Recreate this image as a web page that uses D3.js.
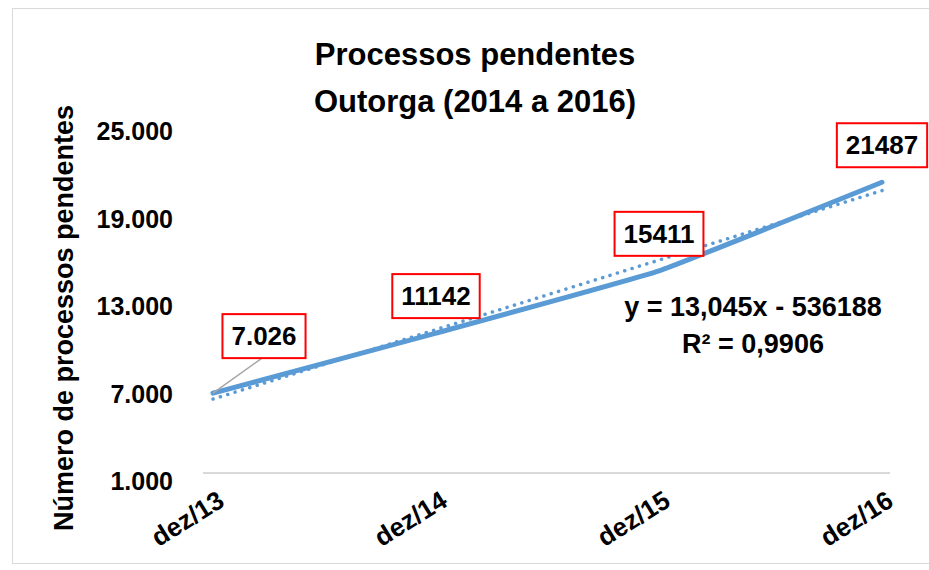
<!DOCTYPE html>
<html>
<head>
<meta charset="utf-8">
<script src="https://cdn.jsdelivr.net/npm/d3@7"></script>
<style>
    body { margin: 0; background: #fff; }
    svg text { font-family: "Liberation Sans", Arial, sans-serif; font-weight: bold; fill: #000; }
</style>
</head>
<body>
<div id="chart"></div>
<script>
// data
const categories = ['dez/13', 'dez/14', 'dez/15', 'dez/16'];
const pendentes = [7026, 11142, 15411, 21487];
const pointLabels = ['7.026', '11142', '15411', '21487'];
const yTicks = [1000, 7000, 13000, 19000, 25000];
const titleLines = ['Processos pendentes', 'Outorga (2014 a 2016)'];
const equationLines = ['y = 13,045x - 536188', 'R² = 0,9906'];

const width = 929, height = 570;
const blue = '#5b9bd5';

const svg = d3.select('#chart')
    .append('svg')
    .attr('width', width)
    .attr('height', height);

// chart border
svg.append('rect')
    .attr('x', 12.5).attr('y', 8.5)
    .attr('width', 930).attr('height', 555)
    .attr('fill', '#fff')
    .attr('stroke', '#d9d9d9');

const x = d3.scalePoint().domain(categories).range([213, 882]);
const y = d3.scaleLinear().domain([1000, 25000]).range([481, 131]);

// title
svg.append('text')
    .attr('x', 475).attr('text-anchor', 'middle')
    .style('font-size', '31px')
    .selectAll('tspan')
    .data(titleLines)
    .join('tspan')
    .attr('x', 475)
    .attr('y', (d, i) => 65 + i * 47)
    .text(d => d);

// y axis title
svg.append('text')
    .attr('transform', 'translate(73,318) rotate(-90)')
    .attr('text-anchor', 'middle')
    .style('font-size', '27px')
    .text('Número de processos pendentes');

// y axis (labels only)
const yAxis = d3.axisLeft(y)
    .tickValues(yTicks)
    .tickSize(0)
    .tickPadding(0)
    .tickFormat(d => d3.format(',')(d).replace(/,/g, '.'));

const yg = svg.append('g')
    .attr('transform', 'translate(173,0)')
    .call(yAxis);
yg.select('.domain').remove();
yg.selectAll('text')
    .style('font-size', '25px')
    .attr('dy', '0.35em');

// category axis line
svg.append('line')
    .attr('x1', 203).attr('x2', 890)
    .attr('y1', 473).attr('y2', 473)
    .attr('stroke', '#d9d9d9')
    .attr('stroke-width', 2);

// category labels
svg.append('g')
    .selectAll('text')
    .data(categories)
    .join('text')
    .attr('text-anchor', 'end')
    .attr('transform', d => `translate(${x(d) + 13},505) rotate(-32)`)
    .style('font-size', '26px')
    .text(d => d);

// linear trendline from least squares on the series
const idx = pendentes.map((d, i) => i);
const mx = d3.mean(idx), my = d3.mean(pendentes);
const slope = d3.sum(idx, i => (i - mx) * (pendentes[i] - my)) / d3.sum(idx, i => (i - mx) ** 2);
const intercept = my - slope * mx;
const trend = [0, categories.length - 1].map(i => ({ c: categories[i], v: intercept + slope * i }));

svg.append('path')
    .datum(trend)
    .attr('fill', 'none')
    .attr('stroke', blue)
    .attr('stroke-width', 3.5)
    .attr('stroke-linecap', 'round')
    .attr('stroke-dasharray', '0.1 7.6')
    .attr('d', d3.line().x(d => x(d.c)).y(d => y(d.v)));

// main series
const series = categories.map((c, i) => ({ c, v: pendentes[i], label: pointLabels[i] }));

svg.append('path')
    .datum(series)
    .attr('fill', 'none')
    .attr('stroke', blue)
    .attr('stroke-width', 5)
    .attr('stroke-linecap', 'round')
    .attr('d', d3.line().x(d => x(d.c)).y(d => y(d.v)).curve(d3.curveCardinal.tension(0.7)));

// data labels in red boxes; the first one was dragged aside and has a leader line
const shift = i => i === 0 ? [51, -57] : [0, -37];
const boxH = 44;

series.forEach((d, i) => {
    const [dx, dy] = shift(i);
    const cx = x(d.c) + dx, cy = y(d.v) + dy;

    if (i === 0) {
        svg.append('line')
            .attr('x1', x(d.c)).attr('y1', y(d.v))
            .attr('x2', cx - 2).attr('y2', cy + boxH / 2)
            .attr('stroke', '#a6a6a6')
            .attr('stroke-width', 1.5);
    }

    const g = svg.append('g');
    const rect = g.append('rect');
    const t = g.append('text')
        .attr('x', cx).attr('y', cy)
        .attr('dy', '0.35em')
        .attr('text-anchor', 'middle')
        .style('font-size', '26px')
        .text(d.label);
    const bb = t.node().getBBox();
    const boxW = bb.width + 18;
    rect.attr('x', cx - boxW / 2).attr('y', cy - boxH / 2)
        .attr('width', boxW).attr('height', boxH)
        .attr('fill', '#fff')
        .attr('stroke', '#ff0000')
        .attr('stroke-width', 2);
});

// trendline equation
svg.append('text')
    .attr('text-anchor', 'middle')
    .style('font-size', '27px')
    .selectAll('tspan')
    .data(equationLines)
    .join('tspan')
    .attr('x', 753)
    .attr('y', (d, i) => 316 + i * 37)
    .text(d => d);
</script>
</body>
</html>
